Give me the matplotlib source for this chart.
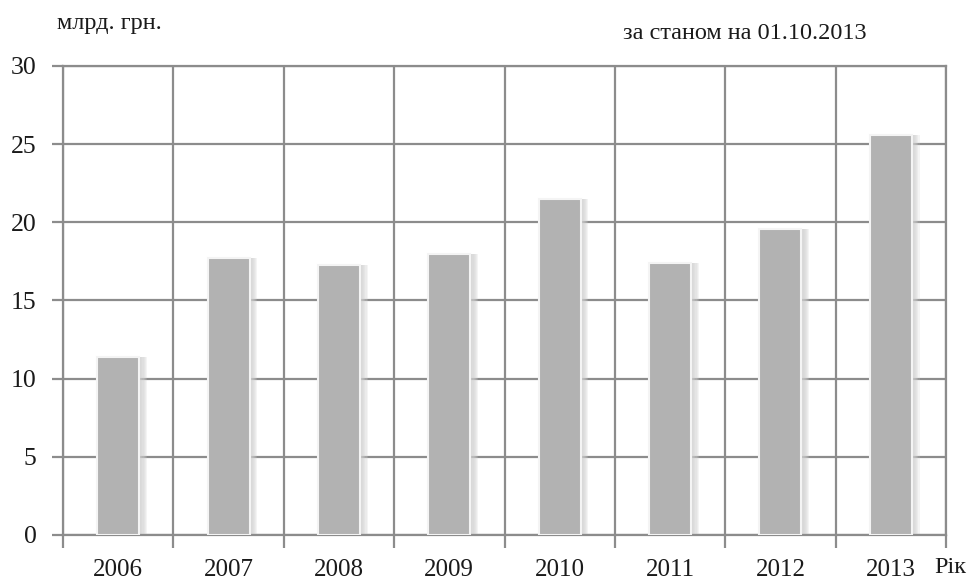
import matplotlib.pyplot as plt
import numpy as np

years = ['2006', '2007', '2008', '2009', '2010', '2011', '2012', '2013']
values = [11.4, 17.7, 17.3, 18.0, 21.5, 17.4, 19.6, 25.6]

plt.rcParams['font.family'] = ['Liberation Serif', 'DejaVu Serif']

fig = plt.figure(figsize=(9.78, 5.85), dpi=100)
ax = fig.add_axes([0.0644, 0.0855, 0.9029, 0.8017])

grid_col = '#8c8c8c'
txt_col = '#1a1a1a'
x = np.arange(len(years))
w = 0.38

# м'яка тінь праворуч від стовпців
for off in [0.07, 0.06, 0.05, 0.04, 0.03, 0.02]:
    ax.bar(x + off, values, width=w, color='#cfcfcf', alpha=0.22, zorder=2, linewidth=0)
ax.bar(x, values, width=w, color='#b2b2b2', edgecolor='#f4f4f4', linewidth=1.5, zorder=3)

ax.set_xlim(-0.5, len(years) - 0.5)
ax.set_ylim(0, 30)
ax.set_yticks(range(0, 31, 5))
ax.yaxis.grid(True, color=grid_col, linewidth=1.6, zorder=1)
ax.set_axisbelow(True)

# вертикальні лінії між роками
ax.set_xticks(np.arange(-0.5, len(years), 1.0))
ax.set_xticklabels([])
ax.xaxis.grid(True, color=grid_col, linewidth=1.6)
ax.set_xticks(x, minor=True)
ax.set_xticklabels(years, minor=True)
ax.tick_params(axis='x', which='minor', length=0, pad=17, labelsize=18, labelcolor=txt_col)
ax.tick_params(axis='x', which='major', length=9, width=1.6, color=grid_col)
ax.tick_params(axis='y', length=8, width=1.6, color=grid_col, pad=11, labelsize=18.5, labelcolor=txt_col)

for s in ax.spines.values():
    s.set_color(grid_col)
    s.set_linewidth(1.6)

fig.text(0.058, 0.960, 'млрд. грн.', fontsize=17.5, color=txt_col, va='center')
fig.text(0.637, 0.943, 'за станом на 01.10.2013', fontsize=17.5, color=txt_col, va='center')
fig.text(0.955, 0.012, 'Рік', fontsize=17.5, color=txt_col, va='bottom')

fig.savefig('out.png', dpi=100)
